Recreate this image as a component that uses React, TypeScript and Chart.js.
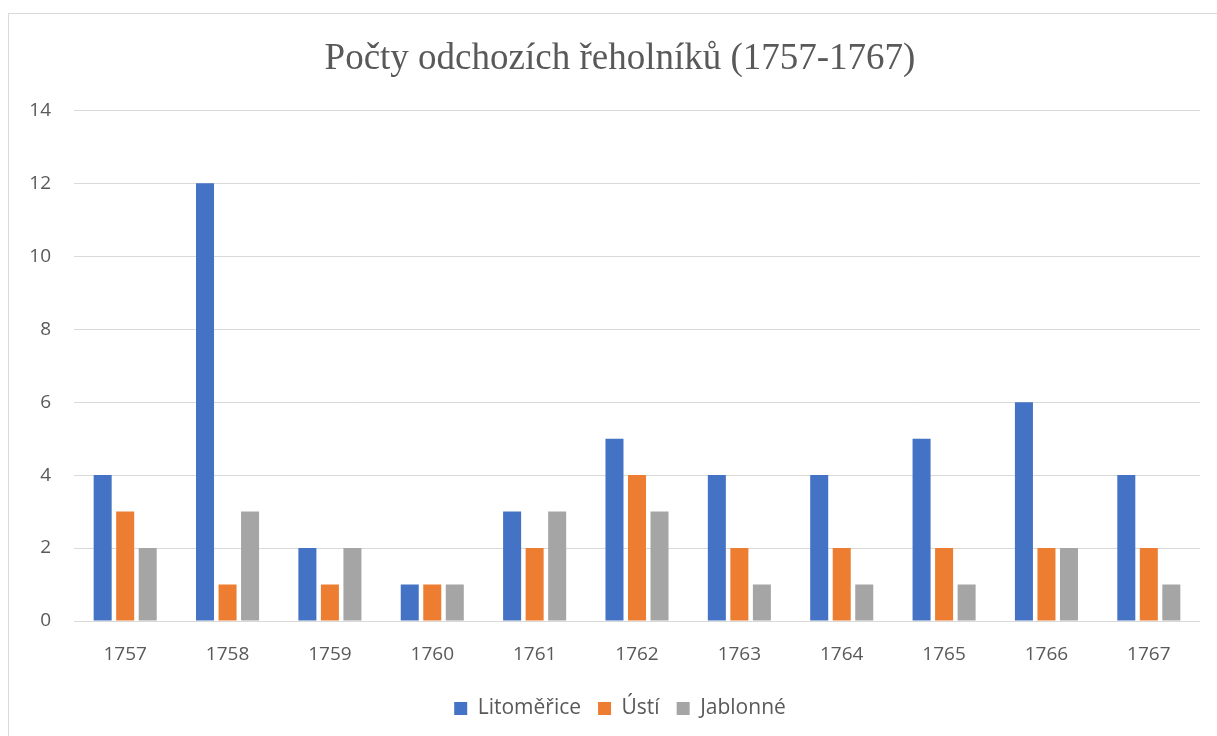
import React, { useEffect, useRef } from "react";
import { Chart, registerables } from "chart.js";

Chart.register(...registerables);

const years = ["1757", "1758", "1759", "1760", "1761", "1762", "1763", "1764", "1765", "1766", "1767"];
const litomerice = [4, 12, 2, 1, 3, 5, 4, 4, 5, 6, 4];
const usti = [3, 1, 1, 1, 2, 4, 2, 2, 2, 2, 2];
const jablonne = [2, 3, 2, 1, 3, 3, 1, 1, 1, 2, 1];
const titleText = "Počty odchozích řeholníků (1757-1767)";

const W = 1209;
const H = 723;
const CW = 1222;

export default function App() {
  const ref = useRef<HTMLCanvasElement>(null);
  useEffect(() => {
    const ctx = ref.current!;
    const chart = new Chart(ctx, {
      type: "bar",
      data: {
        labels: years,
        datasets: [
          { label: "Litoměřice", data: litomerice, backgroundColor: "#4472C4" },
          { label: "Ústí", data: usti, backgroundColor: "#ED7D31" },
          { label: "Jablonné", data: jablonne, backgroundColor: "#A5A5A5" },
        ],
      },
      options: {
        animation: false,
        responsive: false,
        maintainAspectRatio: false,
        datasets: { bar: { barPercentage: 0.8, categoryPercentage: 0.66 } },
        layout: { padding: { left: 0, right: 0, top: 0, bottom: 7 } },
        plugins: {
          title: {
            display: true,
            text: titleText,
            color: "#595959",
            font: { family: "'Liberation Serif', 'Times New Roman', serif", size: 37, weight: "normal" },
            padding: { top: 23, bottom: 29 },
          },
          legend: {
            position: "bottom",
            labels: {
              color: "#595959",
              font: { family: "'Open Sans', sans-serif", size: 21 },
              boxWidth: 13,
              boxHeight: 13,
              padding: 17,
            },
          },
          tooltip: { enabled: false },
        },
        scales: {
          x: {
            grid: { display: false, drawTicks: false },
            border: { display: false },
            ticks: {
              color: "#595959",
              font: { family: "'Open Sans', sans-serif", size: 19 },
              padding: 22,
              maxRotation: 0,
            },
            afterFit: (s: any) => {
              s.height = 60;
            },
          },
          y: {
            min: 0,
            max: 14,
            grid: { color: "#D9D9D9", lineWidth: 1, drawTicks: false },
            border: { display: false },
            ticks: {
              stepSize: 2,
              color: "#595959",
              font: { family: "'Open Sans', sans-serif", size: 19 },
              padding: 23,
            },
            afterFit: (s: any) => {
              s.width = 65;
            },
          },
          yRightGap: {
            type: "linear",
            position: "right",
            display: true,
            grid: { display: false, drawTicks: false },
            border: { display: false },
            ticks: { display: false },
            afterFit: (s: any) => {
              s.width = CW - 1191;
            },
          },
        },
      },
    });
    return () => chart.destroy();
  }, []);
  return (
    <div
      style={{
        position: "absolute",
        left: 8,
        top: 13,
        width: W,
        height: H,
        borderTop: "1px solid #D9D9D9",
        borderLeft: "1px solid #D9D9D9",
        boxSizing: "border-box",
        background: "#fff",
        overflow: "hidden",
      }}
    >
      <canvas ref={ref} width={CW} height={H - 1} style={{ display: "block" }} />
    </div>
  );
}
